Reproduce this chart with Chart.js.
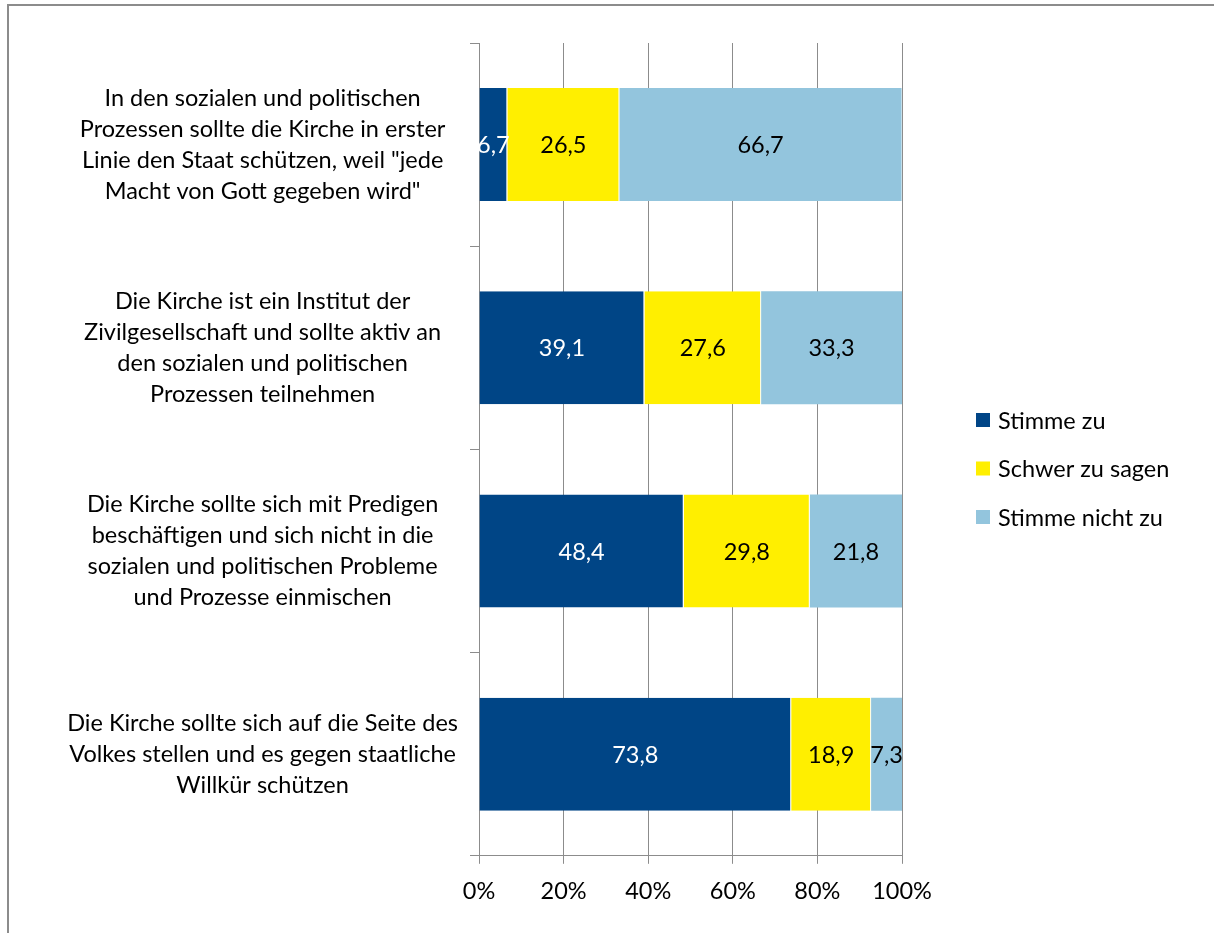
<!DOCTYPE html>
<html>
<head>
<meta charset="utf-8">
<script src="https://cdn.jsdelivr.net/npm/chart.js"></script>
<style>
  html, body { margin: 0; padding: 0; background: #fff; }
  #wrap { position: relative; width: 1214px; height: 933px; overflow: hidden; }
  #frame { position: absolute; left: 7px; top: 4px; width: 1300px; height: 1000px;
           border-left: 2px solid #8c8c8c; border-top: 2px solid #8c8c8c; }
  canvas { position: absolute; left: 0; top: 0; }
</style>
</head>
<body>
<div id="wrap">
  <div id="frame"></div>
  <canvas id="chart" width="1214" height="933"></canvas>
</div>
<script>
// categories (one label per bar, split into lines)
let categories = [
  ['In den sozialen und politischen', 'Prozessen sollte die Kirche in erster', 'Linie den Staat schützen, weil "jede', 'Macht von Gott gegeben wird"'],
  ['Die Kirche ist ein Institut der', 'Zivilgesellschaft und sollte aktiv an', 'den sozialen und politischen', 'Prozessen teilnehmen'],
  ['Die Kirche sollte sich mit Predigen', 'beschäftigen und sich nicht in die', 'sozialen und politischen Probleme', 'und Prozesse einmischen'],
  ['Die Kirche sollte sich auf die Seite des', 'Volkes stellen und es gegen staatliche', 'Willkür schützen']
];

let seriesNames = ['Stimme zu', 'Schwer zu sagen', 'Stimme nicht zu'];
let stimmeZu = [6.7, 39.1, 48.4, 73.8];
let schwerZuSagen = [26.5, 27.6, 29.8, 18.9];
let stimmeNichtZu = [66.7, 33.3, 21.8, 7.3];

let xTicks = [0, 20, 40, 60, 80, 100];

let colors = ['#004586', '#ffef00', '#93c5dd'];
let labelColors = ['#ffffff', '#000000', '#000000'];

let FONT = 'Lato, "Open Sans", sans-serif';
let FS = 23.5;

// value labels in the middle of each segment
let valueLabels = {
  id: 'valueLabels',
  afterDatasetsDraw(chart) {
    let ctx = chart.ctx;
    ctx.save();
    ctx.font = FS + 'px ' + FONT;
    ctx.textAlign = 'center';
    ctx.textBaseline = 'middle';
    chart.data.datasets.forEach((ds, i) => {
      let meta = chart.getDatasetMeta(i);
      meta.data.forEach((bar, j) => {
        let p = bar.getCenterPoint();
        ctx.fillStyle = labelColors[i];
        ctx.fillText(String(ds.data[j]).replace('.', ','), p.x, p.y + 1);
      });
    });
    ctx.restore();
  }
};

// legend on the right
let sideLegend = {
  id: 'sideLegend',
  afterDraw(chart) {
    let ctx = chart.ctx;
    let x = chart.chartArea.right + 74;
    let y0 = 420;
    ctx.save();
    ctx.font = FS + 'px ' + FONT;
    ctx.textBaseline = 'middle';
    ctx.textAlign = 'left';
    seriesNames.forEach((name, i) => {
      let y = y0 + i * 48.5;
      ctx.fillStyle = colors[i];
      ctx.fillRect(x, y - 7, 14, 14);
      ctx.fillStyle = '#000';
      ctx.fillText(name, x + 22, y + 1);
    });
    ctx.restore();
  }
};

let datasets = [stimmeZu, schwerZuSagen, stimmeNichtZu].map((d, i) => ({
  label: seriesNames[i],
  data: d,
  backgroundColor: colors[i],
  borderColor: '#ffffff',
  borderWidth: { top: 0, bottom: 0, left: 0, right: i < 2 ? 1 : 0 },
  borderSkipped: false,
  categoryPercentage: 1,
  barPercentage: 0.556
}));

new Chart(document.getElementById('chart'), {
  type: 'bar',
  data: { labels: categories, datasets: datasets },
  options: {
    indexAxis: 'y',
    responsive: false,
    animation: false,
    events: [],
    layout: { padding: { left: 10, right: 312, top: 43, bottom: 13 } },
    plugins: { legend: { display: false }, tooltip: { enabled: false } },
    scales: {
      x: {
        stacked: true,
        min: 0,
        max: 100,
        afterBuildTicks(scale) { scale.ticks = xTicks.map(v => ({ value: v })); },
        ticks: {
          color: '#000',
          font: { family: FONT, size: FS },
          padding: 14,
          callback: v => v + '%'
        },
        grid: { color: '#8c8c8c', lineWidth: 1, tickLength: 8 },
        border: { color: '#8c8c8c' }
      },
      y: {
        stacked: true,
        afterFit(scale) {
          scale.width = 469;
          scale.paddingTop = 0;
          scale.paddingBottom = 0;
        },
        ticks: {
          color: '#000',
          font: { family: FONT, size: FS, lineHeight: 1.32 },
          crossAlign: 'center',
          padding: 12
        },
        grid: { offset: true, drawOnChartArea: false, color: '#8c8c8c', tickLength: 9 },
        border: { color: '#8c8c8c' }
      }
    }
  },
  plugins: [valueLabels, sideLegend]
});
</script>
</body>
</html>
